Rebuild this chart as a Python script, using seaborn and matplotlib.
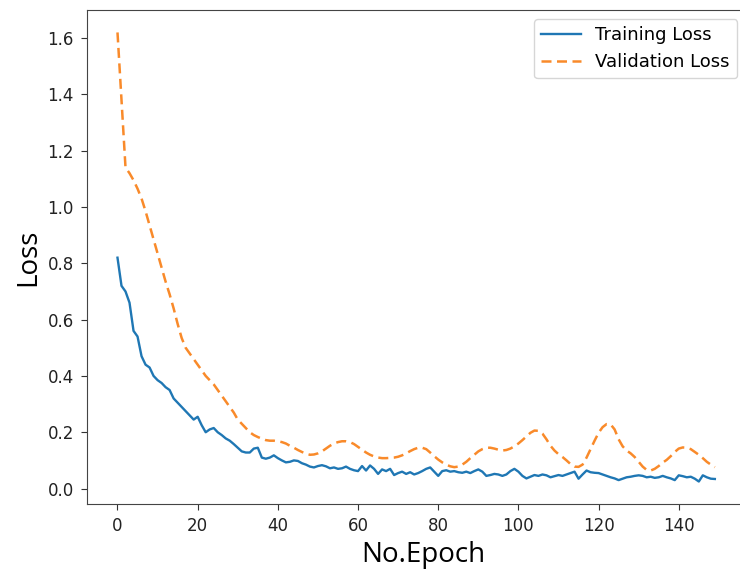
import numpy as np
import pandas as pd
import seaborn as sns
from matplotlib import pyplot as plt

# loss values, one per epoch (0..149)
train_loss = [
    0.82, 0.72, 0.70, 0.66, 0.56, 0.54, 0.47, 0.44, 0.43, 0.40,
    0.385, 0.375, 0.36, 0.35, 0.32, 0.305, 0.29, 0.275, 0.26, 0.245,
    0.255, 0.225, 0.20, 0.21, 0.215, 0.20, 0.19, 0.178, 0.17, 0.158,
    0.145, 0.132, 0.128, 0.128, 0.142, 0.145, 0.11, 0.106, 0.11, 0.118,
    0.108, 0.10, 0.093, 0.095, 0.10, 0.098, 0.09, 0.085, 0.078, 0.075,
    0.08, 0.083, 0.079, 0.072, 0.075, 0.07, 0.072, 0.078, 0.07, 0.065,
    0.062, 0.08, 0.064, 0.082, 0.07, 0.052, 0.068, 0.062, 0.07, 0.048,
    0.055, 0.06, 0.052, 0.058, 0.05, 0.055, 0.062, 0.07, 0.075, 0.06,
    0.045, 0.062, 0.065, 0.06, 0.062, 0.058, 0.056, 0.06, 0.055, 0.062,
    0.068, 0.06, 0.045, 0.048, 0.052, 0.05, 0.045, 0.05, 0.062, 0.07,
    0.06, 0.045, 0.036, 0.042, 0.048, 0.045, 0.05, 0.047, 0.04, 0.044,
    0.048, 0.045, 0.05, 0.055, 0.06, 0.035, 0.05, 0.064, 0.058, 0.056,
    0.055, 0.05, 0.045, 0.04, 0.036, 0.03, 0.035, 0.04, 0.042, 0.045,
    0.047, 0.045, 0.04, 0.042, 0.038, 0.04, 0.045, 0.04, 0.036, 0.03,
    0.047, 0.044, 0.04, 0.042, 0.035, 0.025, 0.047, 0.04, 0.035, 0.034,
]
val_loss = [
    1.62, 1.38, 1.14, 1.12, 1.095, 1.065, 1.03, 0.985, 0.935, 0.885,
    0.835, 0.785, 0.735, 0.69, 0.64, 0.585, 0.535, 0.50, 0.48, 0.46,
    0.44, 0.42, 0.40, 0.385, 0.37, 0.35, 0.33, 0.31, 0.29, 0.27,
    0.245, 0.23, 0.215, 0.20, 0.19, 0.183, 0.177, 0.172, 0.17, 0.17,
    0.168, 0.165, 0.16, 0.152, 0.145, 0.137, 0.13, 0.124, 0.12, 0.121,
    0.125, 0.132, 0.142, 0.152, 0.16, 0.165, 0.168, 0.168, 0.165, 0.158,
    0.148, 0.138, 0.128, 0.12, 0.114, 0.11, 0.108, 0.108, 0.109, 0.11,
    0.113, 0.118, 0.125, 0.133, 0.14, 0.145, 0.145, 0.14, 0.128, 0.115,
    0.103, 0.093, 0.085, 0.079, 0.076, 0.078, 0.085, 0.095, 0.108, 0.12,
    0.132, 0.14, 0.145, 0.145, 0.142, 0.138, 0.135, 0.137, 0.142, 0.15,
    0.16, 0.172, 0.185, 0.198, 0.206, 0.205, 0.195, 0.175, 0.152, 0.135,
    0.122, 0.112, 0.10, 0.087, 0.078, 0.077, 0.085, 0.11, 0.14, 0.17,
    0.198, 0.218, 0.229, 0.228, 0.21, 0.175, 0.15, 0.135, 0.125, 0.112,
    0.095, 0.078, 0.066, 0.064, 0.07, 0.08, 0.092, 0.102, 0.115, 0.13,
    0.142, 0.146, 0.145, 0.14, 0.13, 0.12, 0.108, 0.095, 0.085, 0.076,
]
epochs = list(range(len(train_loss)))

df = pd.DataFrame({'epoch': epochs, 'train': train_loss, 'val': val_loss})

fig = plt.figure(figsize=(7.4, 5.74), dpi=100)
# the right edge of the axes falls outside the picture, as in the reference
ax = fig.add_axes([0.1176, 0.122, 0.908, 0.8606])

sns.lineplot(data=df, x='epoch', y='train', ax=ax, color='#1f77b4',
             linewidth=1.7, label='Training Loss')
sns.lineplot(data=df, x='epoch', y='val', ax=ax, color='#f98a2a',
             linewidth=1.8, linestyle=(0, (4.0, 2.2)), label='Validation Loss')

ax.set_xlim(-7.6, 160)
ax.set_xticks([0, 20, 40, 60, 80, 100, 120, 140])
ax.set_yticks([0.0, 0.2, 0.4, 0.6, 0.8, 1.0, 1.2, 1.4, 1.6])
ax.tick_params(labelsize=12, length=4, pad=5.5, color='#333333',
               labelcolor='#222222')
for s in ax.spines.values():
    s.set_color('#444444')

ax.set_xlabel('No.Epoch', fontsize=20, family='Open Sans')
ax.set_ylabel('Loss', fontsize=20, family='Open Sans')

# legend sits against the visible right edge of the picture
ax.legend(loc='upper right', bbox_to_anchor=(0.981, 1.0), fontsize=13,
          handlelength=2.2)

plt.savefig('out.png', dpi=100)
